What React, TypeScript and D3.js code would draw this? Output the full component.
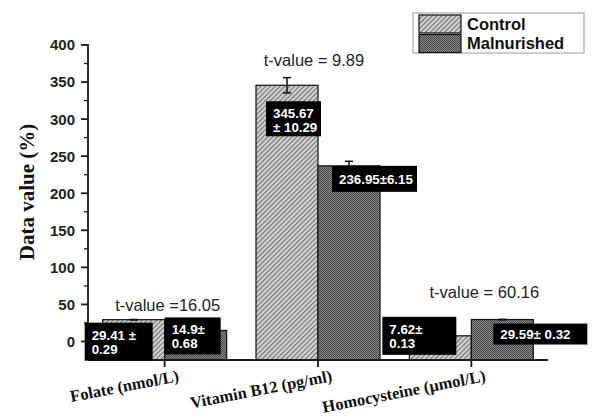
import React from 'react';
import * as d3 from 'd3';

const categories = ['Folate (nmol/L)', 'Vitamin B12 (pg/ml)', 'Homocysteine (µmol/L)'];
const seriesNames = ['Control', 'Malnurished'];
const controlValues = [29.41, 345.67, 7.62];
const controlErrors = [0.29, 10.29, 0.13];
const malValues = [14.9, 236.95, 29.59];
const malErrors = [0.68, 6.15, 0.32];
const controlLabels = [['29.41 ±', '0.29'], ['345.67', '± 10.29'], ['7.62±', '0.13']];
const malLabels = [['14.9±', '0.68'], ['236.95±6.15'], ['29.59± 0.32']];
const tValueLabels = ['t-value =16.05', 't-value = 9.89', 't-value = 60.16'];
const yTicks = [0, 50, 100, 150, 200, 250, 300, 350, 400];
const yMinorTicks = [25, 75, 125, 175, 225, 275, 325, 375];

// layout of annotation boxes: [dx from bar left, dy from bar top, width, height]
const controlBoxLayout = [[-18, 3, 68, 38], [10, 16, 55, 35], [-27, -19, 74, 38]];
const malBoxLayout = [[0, -13, 56, 37], [14, 0, 85, 26], [22, 4, 94, 21]];
// t-value label offsets: [dx from group centre, dy from highest whisker]
const tLayout = [[3, -8], [-4, -12], [13, -21]];

const W = 592;
const H = 416;
const left = 88, right = 548, top = 45, bottom = 360;

export default function App() {
  const x0 = d3.scaleBand<string>().domain(categories).range([left, right]).padding(0);
  const y = d3.scaleLinear().domain([-25, 400]).range([bottom, top]);
  const bw = x0.bandwidth();
  const barW = 62;
  const x1 = d3.scaleBand<string>().domain(seriesNames).range([bw / 2 - barW, bw / 2 + barW]).padding(0);

  const series = [
    { name: 'Control', values: controlValues, errors: controlErrors, labels: controlLabels, layout: controlBoxLayout, fill: 'url(#ctrlPat)' },
    { name: 'Malnurished', values: malValues, errors: malErrors, labels: malLabels, layout: malBoxLayout, fill: 'url(#malPat)' },
  ];

  const sans = "'Liberation Sans', Arial, sans-serif";
  const serif = "'Liberation Serif', 'Times New Roman', serif";

  return (
    <svg width={W} height={H} style={{ position: 'absolute', left: 0, top: 0, background: '#fff' }}>
      <defs>
        <pattern id="ctrlPat" width="3.4" height="3.4" patternUnits="userSpaceOnUse" patternTransform="rotate(45)">
          <rect width="3.4" height="3.4" fill="#d2d2d2" />
          <line x1="0.6" y1="0" x2="0.6" y2="3.4" stroke="#6e6e6e" strokeWidth="1.1" />
        </pattern>
        <pattern id="malPat" width="2" height="2" patternUnits="userSpaceOnUse">
          <rect width="2" height="2" fill="#8a8a8a" />
          <rect width="1" height="1" fill="#474747" />
          <rect x="1" y="1" width="1" height="1" fill="#474747" />
        </pattern>
      </defs>

      {/* bars */}
      {series.map((s) =>
        categories.map((c, i) => {
          const bx = (x0(c) as number) + (x1(s.name) as number);
          const by = y(s.values[i]);
          return (
            <rect key={s.name + c} x={bx} y={by} width={x1.bandwidth()} height={bottom - by}
              fill={s.fill} stroke="#111" strokeWidth={1.2} />
          );
        })
      )}

      {/* error bars */}
      {series.map((s) =>
        categories.map((c, i) => {
          const cx = (x0(c) as number) + (x1(s.name) as number) + x1.bandwidth() / 2;
          const y1 = y(s.values[i] + s.errors[i]);
          const y2 = y(s.values[i] - s.errors[i]);
          return (
            <g key={'e' + s.name + c} stroke="#111" strokeWidth={1.5}>
              <line x1={cx} x2={cx} y1={y1} y2={y2} />
              <line x1={cx - 4} x2={cx + 4} y1={y1} y2={y1} />
              <line x1={cx - 4} x2={cx + 4} y1={y2} y2={y2} />
            </g>
          );
        })
      )}

      {/* axes */}
      <g stroke="#1a1a1a" strokeWidth={1.8}>
        <line x1={left} x2={left} y1={bottom} y2={top - 1} />
        <line x1={left} x2={right} y1={bottom} y2={bottom} />
        {yTicks.map((t) => (
          <line key={'yt' + t} x1={left - 7} x2={left} y1={y(t)} y2={y(t)} />
        ))}
        {yMinorTicks.map((t) => (
          <line key={'ym' + t} x1={left - 4} x2={left} y1={y(t)} y2={y(t)} strokeWidth={1.3} />
        ))}
        {categories.map((c) => {
          const cx = (x0(c) as number) + bw / 2;
          return <line key={'xt' + c} x1={cx} x2={cx} y1={bottom} y2={bottom + 7} />;
        })}
      </g>
      {yTicks.map((t) => (
        <text key={'yl' + t} x={75} y={y(t)} dy="0.36em" textAnchor="end"
          fontFamily={sans} fontWeight="bold" fontSize={15} fill="#222">{t}</text>
      ))}
      <text transform={`translate(34,192) rotate(-90)`} textAnchor="middle"
        fontFamily={serif} fontWeight="bold" fontSize={21} fill="#111">Data value (%)</text>

      {categories.map((c) => {
        const cx = (x0(c) as number) + bw / 2;
        return (
          <text key={'xl' + c} transform={`translate(${cx + 15},${bottom + 21}) rotate(-11)`} textAnchor="end"
            fontFamily={serif} fontWeight="bold" fontSize={16.5} fill="#111">{c}</text>
        );
      })}

      {/* value label boxes */}
      {series.map((s) =>
        categories.map((c, i) => {
          const bx = (x0(c) as number) + (x1(s.name) as number);
          const by = y(s.values[i]);
          const [dx, dy, w, h] = s.layout[i];
          const lines = s.labels[i];
          const bxx = bx + dx;
          const byy = by + dy;
          return (
            <g key={'lb' + s.name + c}>
              <rect x={bxx} y={byy} width={w} height={h} fill="#000" />
              {lines.map((ln, k) => (
                <text key={k} x={bxx + 7}
                  y={lines.length === 1 ? byy + h / 2 + 5 : byy + 17 + k * 14}
                  fontFamily={sans} fontWeight="bold" fontSize={13.3} fill="#fff">{ln}</text>
              ))}
            </g>
          );
        })
      )}

      {/* t-values */}
      {categories.map((c, i) => {
        const cx = (x0(c) as number) + bw / 2;
        const topVal = Math.max(controlValues[i] + controlErrors[i], malValues[i] + malErrors[i]);
        return (
          <text key={'tv' + c} x={cx + tLayout[i][0]} y={y(topVal) + tLayout[i][1]} textAnchor="middle"
            fontFamily={sans} fontSize={16.5} fill="#222">{tValueLabels[i]}</text>
        );
      })}

      {/* legend */}
      <g>
        <rect x={413} y={13} width={171} height={40} fill="#fff" stroke="#9a9a9a" strokeWidth={1} />
        {series.map((s, k) => (
          <g key={'lg' + s.name}>
            <rect x={419} y={15 + k * 19.5} width={42} height={18} fill={s.fill} stroke="#111" strokeWidth={1.2} />
            <text x={467} y={30 + k * 19} fontFamily={sans} fontWeight="bold" fontSize={16.5} fill="#111">{s.name}</text>
          </g>
        ))}
      </g>
    </svg>
  );
}
